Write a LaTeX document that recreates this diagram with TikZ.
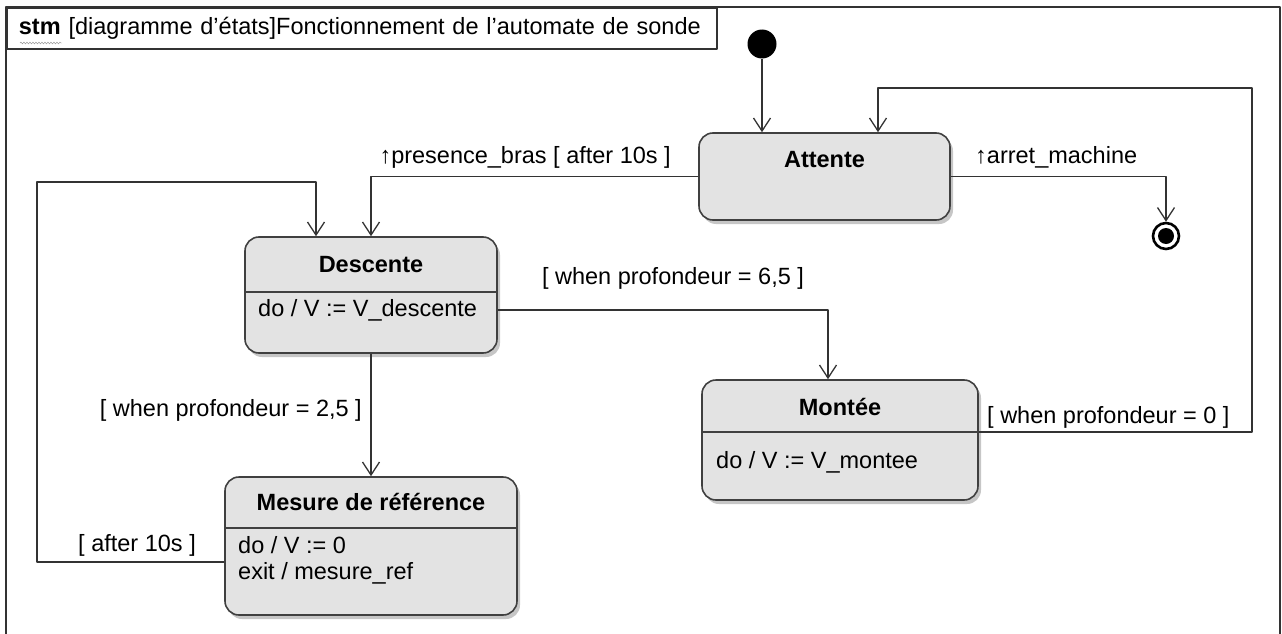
\documentclass[tikz,border=0pt]{standalone}
\usepackage{fontspec}
\setmainfont{Liberation Sans}
\usetikzlibrary{arrows.meta,shadows,decorations.pathmorphing}

\begin{document}
\begin{tikzpicture}[x=1pt,y=-1pt,line join=round,
    >={Straight Barb[length=13pt,width=17pt]},
    font=\fontsize{23.5}{26}\selectfont]
  \tikzstyle{state}=[draw=black!75,line width=1.6pt,fill=black!11,rounded corners=14pt,
    drop shadow={shadow xshift=3pt,shadow yshift=-4pt,opacity=.45}]
  \tikzstyle{divline}=[draw=black!75,line width=1.4pt]
  \tikzstyle{trans}=[->,draw=black!80,line width=1.3pt]
  \tikzstyle{title}=[font=\fontsize{23.5}{26}\selectfont\bfseries,inner sep=0pt]
  \tikzstyle{body}=[anchor=west,align=left,inner sep=0pt]
  \tikzstyle{guard}=[inner sep=0pt]

  \useasboundingbox (0,0) rectangle (1282,634);

  % frame and header
  \draw[black!80,line width=2pt] (6,640) |- (1280,7) -- (1280,640);
  \node[draw=black!80,line width=1.8pt,anchor=north west,minimum height=41,
        text width=686,inner xsep=12pt,align=left] (hdr) at (6,7)
    {\textbf{stm} [diagramme d’états]Fonctionnement de l’automate de sonde};
  \draw[black!45,decorate,decoration={snake,amplitude=1pt,segment length=3pt}] (20,43) -- (62,43);

  % states
  \foreach \name/\x/\y/\w/\h in {att/824.5/176.5/251/87, desc/371/295/252/116,
                                 mont/840/440/276/120, mes/371/546/292/138}
    \node[state,minimum width=\w,minimum height=\h] (\name) at (\x,\y) {};

  \foreach \name/\y/\text in {att/160/Attente, desc/265/Descente,
                              mont/407/Montée, mes/502/Mesure de référence}
    \node[title] (\name-t) at (\name.center |- 0,\y) {\text};

  \foreach \name/\y in {desc/292, mont/432, mes/528}
    \draw[divline] (\name.west |- 0,\y) -- (\name.east |- 0,\y);

  \node[body] (desc-b) at (258,310) {do / V := V\_descente};
  \node[body] (mont-b) at (716,462) {do / V := V\_montee};
  \node[body] (mes-b) at (238,560) {do / V := 0\\exit / mesure\_ref};

  % pseudo states
  \node[circle,fill=black,minimum size=29,inner sep=0pt] (init) at (762,44) {};
  \node[circle,draw=black,line width=2.6pt,fill=white,minimum size=26,inner sep=0pt] (fin) at (1166,236) {};
  \fill[black] (fin.center) circle (8);

  % transitions
  \draw[trans] (init) -- ([xshift=-62.5pt]att.north);
  \draw[trans] (att.west) -| (desc.north);
  \draw[trans] (att.east) -| (fin);
  \draw[trans] ([yshift=8pt]mont.east) -| (1252,88) -| ([xshift=53.5pt]att.north);
  \draw[trans] ([yshift=-15pt]desc.east) -| ([xshift=-12pt]mont.north);
  \draw[trans] (desc.south) -- (mes.north);
  \draw[trans] ([yshift=-16pt]mes.west) -| (37,182) -| ([xshift=-55pt]desc.north);

  % guards
  \node[guard,anchor=east] (g-pres) at (671,157) {↑presence\_bras [ after 10s ]};
  \node[guard,anchor=west] (g-arret) at (975,157) {↑arret\_machine};
  \node[guard] (g-65) at (673,278) {[ when profondeur = 6,5 ]};
  \node[guard,anchor=east] (g-25) at (362,410) {[ when profondeur = 2,5 ]};
  \node[guard,anchor=west] (g-0) at (987,417) {[ when profondeur = 0 ]};
  \node[guard,anchor=east] (g-10) at (196,545) {[ after 10s ]};
\end{tikzpicture}
\end{document}
